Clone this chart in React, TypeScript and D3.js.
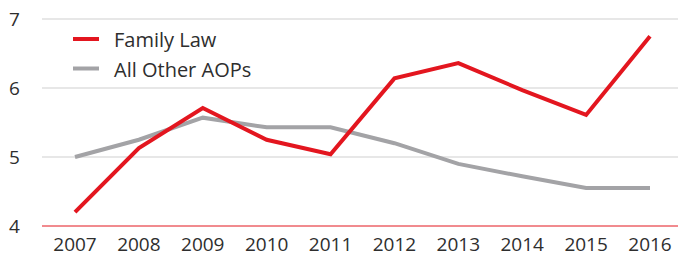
import React from "react";
import * as d3 from "d3";

const years = ["2007","2008","2009","2010","2011","2012","2013","2014","2015","2016"];
const familyLaw = [4.2, 5.13, 5.71, 5.25, 5.04, 6.14, 6.36, 5.97, 5.61, 6.75];
const allOther = [5.0, 5.25, 5.57, 5.43, 5.43, 5.2, 4.9, 4.72, 4.55, 4.55];
const yTicks = [4, 5, 6, 7];
const seriesNames = ["Family Law", "All Other AOPs"];

const W = 678, H = 256;
const RED = "#e3161f";
const GRAY = "#a3a3a6";
const TEXT = "#2e2e2e";
const FONT = "'Open Sans', 'Noto Sans', sans-serif";

export default function App() {
  const x = d3.scalePoint<string>().domain(years).range([75, 650]);
  const y = d3.scaleLinear().domain([4, 7]).range([226, 19]);
  const line = d3.line<number>().x((_, i) => x(years[i])!).y(d => y(d));
  const series = [
    { name: seriesNames[0], data: familyLaw, color: RED },
    { name: seriesNames[1], data: allOther, color: GRAY },
  ];
  return (
    <svg width={W} height={H} style={{ position: "absolute", left: 0, top: 0 }} fontFamily={FONT} fontWeight={400}>
      {yTicks.map(t => (
        <g key={t}>
          {t !== 4 && <line x1={42} x2={W} y1={y(t)} y2={y(t)} stroke="#cfcfcf" strokeWidth={1} />}
          <text x={14.5} y={y(t) + 6.5} textAnchor="middle" fontSize={19} fill={TEXT}>{t}</text>
        </g>
      ))}
      <line x1={42} x2={W} y1={y(4)} y2={y(4)} stroke={RED} strokeWidth={1} />
      {years.map(yr => (
        <text key={yr} x={x(yr)} y={251} textAnchor="middle" fontSize={19} fill={TEXT}>{yr}</text>
      ))}
      {series.slice().reverse().map(s => (
        <path key={s.name} d={line(s.data)!} fill="none" stroke={s.color} strokeWidth={4} strokeLinejoin="miter" />
      ))}
      {series.map((s, i) => (
        <g key={s.name} transform={`translate(73, ${39 + i * 29.5})`}>
          <line x1={0} x2={26} y1={0} y2={0} stroke={s.color} strokeWidth={4} />
          <text x={41} y={8.3} fontSize={20} fill={TEXT}>{s.name}</text>
        </g>
      ))}
    </svg>
  );
}
